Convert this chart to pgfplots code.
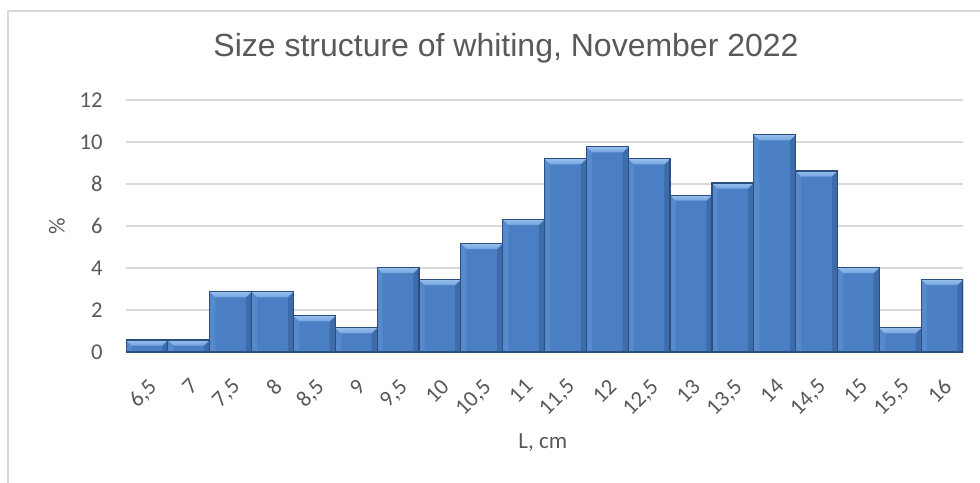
\documentclass[border=0pt]{standalone}
\usepackage{fontspec}
\setmainfont{Carlito}
\newfontfamily\titlefont{Liberation Sans}
\usepackage{pgfplots}
\pgfplotsset{compat=1.18}

\definecolor{txtgray}{HTML}{595959}
\definecolor{gridgray}{HTML}{D9D9D9}
\definecolor{axisgray}{HTML}{BFBFBF}
\definecolor{framegray}{HTML}{D9D9D9}
\definecolor{barbody}{HTML}{4B7FC4}
\definecolor{baredge}{HTML}{2A4E80}
\definecolor{bevtop}{HTML}{AACCF4}
\definecolor{bevbot}{HTML}{6196D8}
\definecolor{bevleft}{HTML}{5789CD}
\definecolor{bevright}{HTML}{3E6CA8}

\pgfdeclareverticalshading{bevshade}{100bp}{color(0bp)=(bevbot); color(100bp)=(bevtop)}

% bevelled look for each bar: light top face, shaded sides (basic layer only)
\newcommand\barbevel{%
  \pgfpointanchor{path picture bounding box}{north west}\pgfgetlastxy{\bx}{\by}%
  \pgfpointanchor{path picture bounding box}{south east}\pgfgetlastxy{\ex}{\ey}%
  \def\bd{2.8pt}%
  % left face
  \pgfpathmoveto{\pgfpoint{\bx}{\ey}}%
  \pgfpathlineto{\pgfpoint{\bx}{\by}}%
  \pgfpathlineto{\pgfpoint{\bx+\bd}{\by-\bd}}%
  \pgfpathlineto{\pgfpoint{\bx+\bd}{\ey}}%
  \pgfpathclose
  \pgfsetfillcolor{bevleft}\pgfusepath{fill}%
  % right face
  \pgfpathmoveto{\pgfpoint{\ex}{\ey}}%
  \pgfpathlineto{\pgfpoint{\ex}{\by}}%
  \pgfpathlineto{\pgfpoint{\ex-\bd}{\by-\bd}}%
  \pgfpathlineto{\pgfpoint{\ex-\bd}{\ey}}%
  \pgfpathclose
  \pgfsetfillcolor{bevright}\pgfusepath{fill}%
  % top face
  \pgfpathmoveto{\pgfpoint{\bx}{\by}}%
  \pgfpathlineto{\pgfpoint{\ex}{\by}}%
  \pgfpathlineto{\pgfpoint{\ex-\bd}{\by-\bd}}%
  \pgfpathlineto{\pgfpoint{\bx+\bd}{\by-\bd}}%
  \pgfpathclose
  \pgfshadepath{bevshade}{0}\pgfusepath{discard}%
}
\pgfplotsset{bevbar/.style={fill=barbody, draw=baredge, line width=0.6pt,
  bar shift=0pt, path picture={\barbevel}}}
% one bar per class, so each one gets its own bevel
\newcommand\lenbar[2]{\addplot[bevbar] coordinates {(#1,#2)};}

\begin{document}
\begin{tikzpicture}
\useasboundingbox (0,0) rectangle (490pt,241pt);
% chart frame
\draw[framegray, line width=0.6pt] (4pt,-2pt) -- (4pt,235.5pt) -- (495pt,235.5pt);
% title
\node[anchor=base, font=\titlefont\fontsize{16}{19}\selectfont, text=txtgray] at (253pt,212.5pt) {Size structure of whiting, November 2022};
\begin{axis}[
  at={(63pt,65pt)}, anchor=south west,
  scale only axis, width=418.5pt, height=126pt,
  ybar, bar width=20.925pt,
  xmin=-0.5, xmax=19.5, ymin=0, ymax=12,
  ytick={0,2,4,6,8,10,12},
  xtick={0,...,19},
  xticklabels={{6,5},7,{7,5},8,{8,5},9,{9,5},10,{10,5},11,{11,5},12,{12,5},13,{13,5},14,{14,5},15,{15,5},16},
  /pgf/number format/assume math mode=true,
  major tick length=0pt,
  axis x line*=bottom, axis y line*=left,
  y axis line style={draw=none},
  x axis line style={draw=axisgray, line width=0.9pt},
  ymajorgrids, grid style={gridgray, line width=0.7pt},
  tick label style={text=txtgray, font=\fontsize{11.3}{13}\selectfont},
  yticklabel style={anchor=east, inner sep=0pt, xshift=-11.5pt},
  xticklabel style={rotate=45, anchor=north east, inner sep=0pt},
  xticklabel shift=12.5pt,
  xlabel={L, cm}, ylabel={\%},
  label style={text=txtgray, font=\fontsize{11.5}{13}\selectfont},
  xlabel style={at={(0.498,0)}, anchor=center, yshift=-45.5pt},
  ylabel style={at={(rel axis cs:0,0.5)}, anchor=center, yshift=34.5pt},
]
\lenbar{0}{0.57}
\lenbar{1}{0.57}
\lenbar{2}{2.87}
\lenbar{3}{2.87}
\lenbar{4}{1.72}
\lenbar{5}{1.15}
\lenbar{6}{4.02}
\lenbar{7}{3.45}
\lenbar{8}{5.17}
\lenbar{9}{6.32}
\lenbar{10}{9.20}
\lenbar{11}{9.77}
\lenbar{12}{9.20}
\lenbar{13}{7.47}
\lenbar{14}{8.05}
\lenbar{15}{10.34}
\lenbar{16}{8.62}
\lenbar{17}{4.02}
\lenbar{18}{1.15}
\lenbar{19}{3.45}
\end{axis}
\end{tikzpicture}
\end{document}
